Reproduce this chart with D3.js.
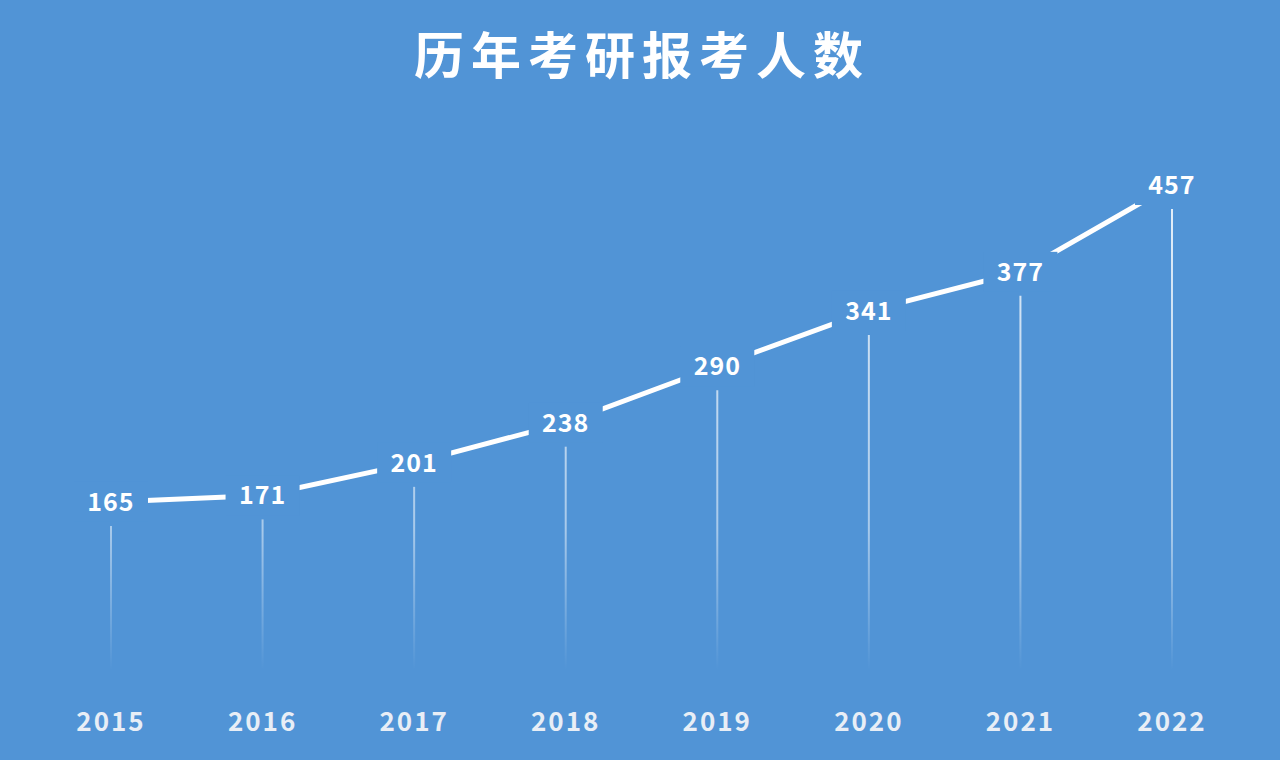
<!DOCTYPE html>
<html><head><meta charset="utf-8">
<script src="https://cdn.jsdelivr.net/npm/d3@7"></script>
<style>body{margin:0;background:#5092d6;}</style>
</head><body>
<script>
const years = ["2015","2016","2017","2018","2019","2020","2021","2022"];
const values = [165, 171, 201, 238, 290, 341, 377, 457];
const title = "历年考研报考人数";

const W = 1280, H = 760, bg = "#5194d6";
const font = "'Noto Sans CJK SC', 'DejaVu Sans', sans-serif";

const svg = d3.select("body").append("svg").attr("width", W).attr("height", H);
svg.append("rect").attr("width", W).attr("height", H).attr("fill", bg);

const x = d3.scalePoint().domain(years).range([111, 1172]);
const y = d3.scaleLinear().domain([0, 457]).range([681, 185]);

const grad = svg.append("defs").append("linearGradient")
  .attr("id", "drop").attr("gradientUnits", "userSpaceOnUse")
  .attr("x1", 0).attr("x2", 0).attr("y1", 200).attr("y2", 670);
grad.append("stop").attr("offset", "0%").attr("stop-color", "#fff").attr("stop-opacity", 0.85);
grad.append("stop").attr("offset", "70%").attr("stop-color", "#fff").attr("stop-opacity", 0.5);
grad.append("stop").attr("offset", "100%").attr("stop-color", "#fff").attr("stop-opacity", 0);

const data = years.map((yr, i) => ({yr, v: values[i]}));

svg.append("g").selectAll("line").data(data).join("line")
  .attr("x1", d => x(d.yr)).attr("x2", d => x(d.yr))
  .attr("y1", d => y(d.v) + 24).attr("y2", 670)
  .attr("stroke", "url(#drop)").attr("stroke-width", 2);

svg.append("path").datum(data)
  .attr("d", d3.line().x(d => x(d.yr)).y(d => y(d.v)))
  .attr("fill", "none").attr("stroke", "#fff").attr("stroke-width", 5);

svg.append("g").selectAll("rect").data(data).join("rect")
  .attr("x", d => x(d.yr) - 37).attr("y", d => y(d.v) - 20)
  .attr("width", 74).attr("height", 40).attr("fill", bg);

svg.append("g").selectAll("text").data(data).join("text")
  .attr("x", d => x(d.yr)).attr("y", d => y(d.v) + 9)
  .attr("text-anchor", "middle").attr("fill", "#fff")
  .attr("font-family", font).attr("font-weight", "bold").attr("font-size", 25)
  .attr("letter-spacing", 1)
  .text(d => d.v);

svg.append("g").selectAll("text").data(years).join("text")
  .attr("x", d => x(d)).attr("y", 731)
  .attr("text-anchor", "middle").attr("fill", "#e8eef6")
  .attr("font-family", font).attr("font-weight", "bold").attr("font-size", 26)
  .attr("letter-spacing", 2)
  .text(d => d);

svg.append("text").attr("x", 642).attr("y", 74).attr("text-anchor", "middle")
  .attr("fill", "#fff").attr("font-family", font).attr("font-weight", "bold")
  .attr("font-size", 50).attr("letter-spacing", 7).text(title);
</script>
</body></html>
